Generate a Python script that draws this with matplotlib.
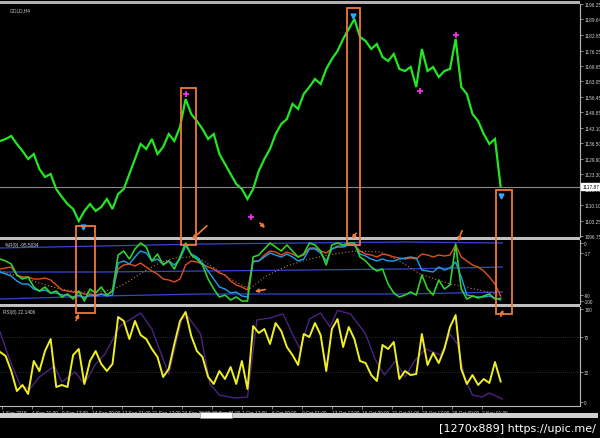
import matplotlib
matplotlib.use("Agg")
import matplotlib.pyplot as plt
import numpy as np
from matplotlib.patches import Rectangle, FancyArrowPatch

plt.rcParams["font.family"] = ["Liberation Sans", "DejaVu Sans"]

W, H = 600, 439

# ---------------- data ----------------
BAR_STEP = 3  # one sample every 3 H4 bars

price_close = [1137.49, 1138.35, 1139.64, 1136.20, 1133.20, 1129.77, 1131.91, 1125.48, 1122.05, 1123.34,
               1116.90, 1113.47, 1110.47, 1108.33, 1103.18, 1107.47, 1110.47, 1107.47, 1109.18, 1112.61,
               1108.33, 1114.76, 1116.90, 1123.34, 1129.77, 1136.20, 1134.06, 1138.35, 1131.91, 1134.92,
               1140.49, 1137.49, 1143.50, 1155.50, 1149.07, 1146.07, 1142.64, 1138.35, 1140.49, 1131.91,
               1127.63, 1123.34, 1119.05, 1116.90, 1112.61, 1116.90, 1124.62, 1129.77, 1134.06, 1140.49,
               1144.78, 1146.93, 1153.36, 1151.22, 1157.65, 1160.65, 1164.08, 1161.94, 1168.37, 1172.66,
               1176.09, 1181.24, 1185.53, 1189.82, 1182.10, 1180.38, 1176.95, 1179.09, 1173.52, 1171.80,
               1174.80, 1168.37, 1167.51, 1169.23, 1160.65, 1176.95, 1167.51, 1169.23, 1164.94, 1167.51,
               1168.37, 1181.24, 1160.65, 1157.65, 1149.07, 1146.07, 1140.49, 1136.20, 1138.35, 1117.87]

price_ticks = ["1196.25", "1189.64", "1182.85", "1176.25", "1169.65", "1163.05", "1156.45", "1149.85",
               "1143.10", "1136.50", "1129.90", "1123.30", "1116.70", "1110.10", "1103.25", "1096.75"]
last_price = 1117.87

# signal markers (bar index, price)
magenta_bars = [99, 134, 224, 243]
magenta_prices = [1157.6, 1104.9, 1158.9, 1182.9]
cyan_bars = [44, 188, 267]
cyan_prices = [1100.6, 1191.1, 1113.9]

wpr_fast = [-27.6, -31.0, -36.2, -55.2, -62.1, -58.6, -75.9, -82.8, -75.9, -86.2,
            -82.8, -93.1, -87.9, -96.6, -82.8, -100.0, -79.3, -86.2, -75.9, -89.7,
            -82.8, -20.7, -13.8, -27.6, -10.3, 0.0, -6.9, -31.0, -19.0, -37.9,
            -31.0, -44.8, -24.1, 0.0, -20.7, -27.6, -37.9, -62.1, -79.3, -93.1,
            -89.7, -98.3, -93.1, -100.0, -100.0, -24.1, -20.7, -10.3, 0.0, -6.9,
            -13.8, -3.4, -13.8, -24.1, -19.0, 0.0, -3.4, -13.8, -37.9, -3.4,
            0.0, -3.4, 0.0, 0.0, -24.1, -31.0, -41.4, -48.3, -44.8, -70.7,
            -86.2, -93.1, -89.7, -84.5, -89.7, -55.2, -79.3, -89.7, -63.8, -79.3,
            -72.4, -1.7, -79.3, -96.6, -91.4, -94.8, -91.4, -87.9, -96.6, -95.5]

wpr_mid = [-50.0, -53.4, -56.9, -65.5, -70.7, -70.7, -79.3, -82.8, -81.0, -86.2,
           -86.2, -89.7, -89.7, -93.1, -89.7, -94.8, -89.7, -91.4, -87.9, -91.4,
           -89.7, -34.5, -31.0, -36.2, -24.1, -13.8, -17.2, -31.0, -27.6, -36.2,
           -31.0, -37.9, -27.6, -5.2, -19.0, -24.1, -34.5, -48.3, -62.1, -75.9,
           -79.3, -86.2, -84.5, -91.4, -93.1, -31.0, -31.0, -24.1, -17.2, -20.7,
           -24.1, -19.0, -24.1, -31.0, -27.6, -10.3, -10.3, -17.2, -31.0, -10.3,
           -6.9, -6.9, -3.4, -3.4, -19.0, -22.4, -27.6, -31.0, -27.6, -31.0,
           -31.0, -27.6, -25.9, -24.1, -25.9, -46.6, -48.3, -50.0, -41.4, -46.6,
           -43.1, -32.8, -58.6, -89.7, -91.4, -93.1, -93.1, -91.4, -94.8, -98.3]

wpr_slow = [-44.8, -43.1, -41.4, -55.2, -58.6, -58.6, -62.1, -62.1, -60.3, -63.8,
            -72.4, -81.0, -82.8, -84.5, -84.5, -87.9, -87.9, -89.7, -87.9, -89.7,
            -82.8, -44.8, -37.9, -36.2, -39.7, -34.5, -41.4, -48.3, -53.4, -62.1,
            -63.8, -67.2, -62.1, -37.9, -31.0, -32.8, -36.2, -41.4, -44.8, -51.7,
            -55.2, -65.5, -72.4, -75.9, -81.0, -32.8, -31.0, -20.7, -13.8, -15.5,
            -20.7, -15.5, -19.0, -24.1, -20.7, -8.6, -8.6, -13.8, -17.2, -10.3,
            -5.2, -5.2, -1.7, -3.4, -13.8, -19.0, -20.7, -24.1, -19.0, -20.7,
            -24.1, -25.9, -27.6, -25.9, -27.6, -19.0, -20.7, -24.1, -20.7, -22.4,
            -20.7, -3.4, -24.1, -31.0, -37.9, -41.4, -48.3, -58.6, -70.7, -91.4]

dotted_bars = [0, 11, 21, 32, 43, 53, 61, 69, 77, 85, 93, 101, 107, 115, 123, 133,
               142, 153, 165, 178, 190, 203, 213, 224, 240, 258, 268]
dotted_vals = [-48.3, -58.6, -69.0, -79.3, -84.5, -84.5, -79.3, -65.5, -48.3, -34.5, -25.9, -24.1,
               -27.6, -44.8, -62.1, -79.3, -56.9, -39.7, -27.6, -19.0, -13.8, -15.5, -31.0,
               -53.4, -70.7, -82.8, -91.4]

band_bars = [0, 54, 108, 162, 216, 268]
band_top = [-8.6, -5.2, -1.7, 0.0, 1.7, 0.0]
band_mid = [-50.0, -50.0, -48.3, -46.6, -44.8, -41.4]
band_bot = [-96.6, -91.4, -87.9, -87.9, -87.9, -84.5]

wpr_ticks = [0, -17, -90, -100]

rsi_fast = [53.8, 49.5, 33.3, 11.8, 18.3, 8.6, 44.1, 33.3, 54.8, 67.7,
            16.1, 18.3, 16.1, 50.5, 57.0, 19.4, 44.1, 54.8, 40.9, 33.3,
            40.9, 91.4, 87.1, 67.7, 87.1, 72.0, 67.7, 57.0, 48.4, 26.9,
            35.5, 62.4, 87.1, 96.8, 71.0, 54.8, 48.4, 26.9, 19.4, 33.3,
            24.7, 37.6, 19.4, 44.1, 14.0, 81.7, 74.2, 78.5, 62.4, 84.9,
            76.3, 59.1, 50.5, 39.8, 73.1, 69.9, 84.9, 72.0, 33.3, 78.5,
            89.2, 59.1, 80.6, 67.7, 44.1, 41.9, 29.0, 22.6, 61.3, 57.0,
            64.5, 24.7, 33.3, 29.0, 30.1, 73.1, 39.8, 52.7, 41.9, 57.0,
            80.6, 93.5, 35.5, 19.4, 29.0, 18.3, 24.7, 20.4, 43.0, 22.1]

rsi_slow_bars = [0, 5, 11, 16, 21, 29, 33, 40, 45, 51, 56, 64, 75, 81, 85, 90, 97, 100, 107, 112,
                 117, 125, 132, 137, 144, 151, 156, 160, 165, 171, 176, 180, 187, 195, 200, 205,
                 211, 216, 221, 227, 235, 240, 244, 248, 252, 257, 261, 268]
rsi_slow_vals = [75.3, 46.2, 17.2, 14.0, 26.9, 38.7, 21.5, 32.3, 19.4, 40.9, 51.6, 81.7, 95.7, 78.5,
                 57.0, 30.1, 89.2, 92.5, 73.1, 19.4, 7.5, 4.3, 5.4, 88.2, 90.3, 94.6, 73.1, 57.0,
                 89.2, 95.7, 80.6, 98.5, 94.6, 73.1, 46.2, 29.0, 44.1, 26.9, 44.1, 57.0, 50.5,
                 73.1, 62.4, 24.7, 7.5, 5.4, 9.7, 3.2]
rsi_ticks = [100, 70, 32, 0]

date_tick_bars = [1, 17, 33, 49, 65, 81, 97, 113, 129, 145, 161, 177, 193, 209, 225, 241, 257]
date_labels = ["1 Sep 2015", "4 Sep 21:00", "9 Sep 17:00", "14 Sep 09:00", "17 Sep 01:00",
               "21 Sep 17:00", "24 Sep 09:00", "29 Sep 01:00", "1 Oct 17:00", "6 Oct 09:00",
               "9 Oct 01:00", "13 Oct 17:00", "16 Oct 09:00", "21 Oct 01:00", "23 Oct 17:00",
               "28 Oct 09:00", "2 Nov 01:00"]

# ---------------- styling ----------------
BG = "black"
AXC = "#b8b8b8"
TXT = "#d0d0d0"
ANN = "#f07838"
FS = 3.4

fig = plt.figure(figsize=(W / 100, H / 100), dpi=100, facecolor=BG)

def fx(x):
    return x / W

def fy(y):
    return 1 - y / H

XMAX = 580 / 1.875

def make_ax(top, bottom):
    ax = fig.add_axes([0, fy(bottom), fx(580), (bottom - top) / H], facecolor=BG)
    ax.set_xlim(0, XMAX)
    for s in ["top", "left", "bottom"]:
        ax.spines[s].set_visible(False)
    ax.spines["right"].set_color(AXC)
    ax.spines["right"].set_linewidth(0.8)
    ax.yaxis.tick_right()
    ax.tick_params(axis="y", direction="out", length=2, width=0.5, colors=AXC,
                   labelsize=FS, labelcolor=TXT, pad=1.0)
    ax.set_xticks([])
    return ax

bars = np.arange(len(price_close)) * BAR_STEP

# main price panel
ax1 = make_ax(5, 238)
ax1.set_ylim(1096.32, 1196.25)
ax1.plot(bars, price_close, color="#22e622", lw=1.6, solid_joinstyle="miter")
ax1.axhline(last_price, color="#8a8a8a", lw=0.8)
ax1.plot(magenta_bars, magenta_prices, ls="none", marker="+", color="#ff30ff", ms=5, mew=1.2)
ax1.plot(cyan_bars, cyan_prices, ls="none", marker="v", color="#30a8ff", ms=3.5)
pt = [float(t) for t in price_ticks]
ax1.set_yticks(pt)
ax1.set_yticklabels(price_ticks)
ax1.text(1.004, (last_price - 1096.32) / (1196.25 - 1096.32), f"{last_price:.2f}",
         transform=ax1.transAxes, fontsize=FS, color="black", va="center", ha="left",
         bbox=dict(boxstyle="square,pad=0.2", fc="white", ec="white"), zorder=10)
ax1.text(0.017, 0.985, "GOLD,H4", transform=ax1.transAxes, fontsize=FS, color=TXT, va="top")

# Williams %R panel
ax2 = make_ax(241, 305)
ax2.set_ylim(-105.17, 5.17)
for b in (band_top, band_mid, band_bot):
    ax2.plot(band_bars, b, color="#3048d0", lw=0.9)
ax2.plot(dotted_bars, dotted_vals, color="#c87850", lw=0.8, ls=(0, (1, 2)))
ax2.plot(bars, wpr_slow, color="#e0501e", lw=1.0)
ax2.plot(bars, wpr_mid, color="#1ea0f0", lw=1.0)
ax2.plot(bars, wpr_fast, color="#30d030", lw=1.2)
ax2.set_yticks(wpr_ticks)
ax2.set_yticklabels([str(t) for t in wpr_ticks])
ax2.text(0.008, 0.97, "%R(9) -95.5034", transform=ax2.transAxes, fontsize=FS, color=TXT, va="top")

# RSI panel
ax3 = make_ax(308, 407)
ax3.set_ylim(-4.3, 102.15)
for lv in (70, 32):
    ax3.axhline(lv, color="#505050", lw=0.5, ls=(0, (1, 2)))
ax3.plot(rsi_slow_bars, rsi_slow_vals, color="#4a2280", lw=1.0)
ax3.plot(bars, rsi_fast, color="#f0f020", lw=1.4)
ax3.set_yticks(rsi_ticks)
ax3.set_yticklabels([str(t) for t in rsi_ticks])
ax3.text(0.005, 0.975, "RSI(8) 22.1406", transform=ax3.transAxes, fontsize=FS, color=TXT, va="top")
ax3.spines["bottom"].set_visible(True)
ax3.spines["bottom"].set_color(AXC)
ax3.spines["bottom"].set_linewidth(0.8)
ax3.set_xticks(date_tick_bars)
ax3.set_xticklabels(date_labels, ha="left")
ax3.tick_params(axis="x", direction="out", length=2.5, width=0.5, colors=AXC,
                labelsize=FS, labelcolor=TXT, pad=0.5)

# ---------------- chrome ----------------
def rect_px(x0, y0, x1, y1, **kw):
    fig.add_artist(Rectangle((fx(x0), fy(y1)), (x1 - x0) / W, (y1 - y0) / H,
                             transform=fig.transFigure, **kw))

rect_px(0, 2, 580, 5, fc="#b0b0b0", ec="none")
rect_px(0, 238, 580, 241, fc="#c0c0c0", ec="none")
rect_px(0, 305, 580, 308, fc="#c0c0c0", ec="none")
rect_px(0, 414, 598, 419, fc="#cfcfcf", ec="none")
rect_px(200, 413, 232, 419, fc="white", ec="#888888", lw=0.4)
fig.text(fx(596), fy(429), "[1270x889] https://upic.me/", fontsize=8, color="white",
         va="center", ha="right", family=["DejaVu Sans"])

# ---------------- annotations ----------------
for (x0, y0, x1, y1) in [(76, 227, 95, 314), (181, 89, 196, 246), (347, 9, 360, 246), (496, 191, 512, 315)]:
    rect_px(x0, y0, x1, y1, fill=False, ec=ANN, lw=1.3)

for (xa, ya, xb, yb) in [(209, 225, 190, 242), (258, 222, 267, 231), (268, 290, 252, 293),
                         (358, 232, 350, 242), (463, 229, 457, 245), (75, 324, 80, 312),
                         (500, 320, 504, 308)]:
    fig.add_artist(FancyArrowPatch((fx(xa), fy(ya)), (fx(xb), fy(yb)), transform=fig.transFigure,
                                   arrowstyle="-|>", mutation_scale=5, color=ANN, lw=1.2))

fig.savefig("out.png", dpi=100, facecolor=BG)
